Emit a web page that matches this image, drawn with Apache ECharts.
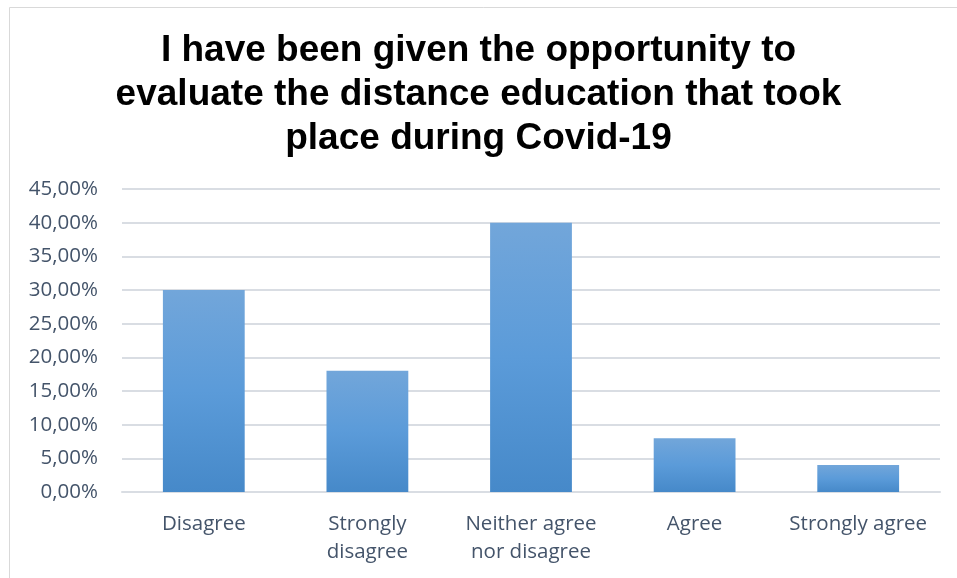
<!DOCTYPE html>
<html><head><meta charset="utf-8">
<script src="https://cdn.jsdelivr.net/npm/echarts@6/dist/echarts.min.js"></script>
<style>html,body{margin:0;padding:0;background:#fff;}#c{width:957px;height:578px;}</style>
</head><body><div id="c"></div>
<script>
const categories = ['Disagree', 'Strongly\ndisagree', 'Neither agree\nnor disagree', 'Agree', 'Strongly agree'];
const values = [30, 18, 40, 8, 4];
const titleText = 'I have been given the opportunity to\nevaluate the distance education that took\nplace during Covid-19';
const yTicks = { min: 0, max: 45, interval: 5 };

const chart = echarts.init(document.getElementById('c'));
chart.setOption({
  animation: false,
  backgroundColor: '#fff',
  graphic: [{
    type: 'rect', shape: { x: 9.5, y: 7.5, width: 960, height: 600 },
    style: { fill: 'none', stroke: '#d9d9d9', lineWidth: 1 }, silent: true, z: -1
  }],
  title: {
    text: titleText, left: 'center', top: 24,
    textStyle: { fontFamily: 'Liberation Sans, Arial', fontWeight: 'bold', fontSize: 37, color: '#000', lineHeight: 44 }
  },
  grid: { left: 122, right: 17, top: 189, bottom: 86 },
  xAxis: {
    type: 'category', data: categories,
    axisLine: { lineStyle: { color: '#d9dde3', width: 2 } },
    axisTick: { show: false },
    axisLabel: { fontFamily: 'Open Sans', fontSize: 20.5, color: '#44546a', margin: 18, lineHeight: 28, interval: 0 }
  },
  yAxis: {
    type: 'value', min: yTicks.min, max: yTicks.max, interval: yTicks.interval,
    axisLine: { show: false }, axisTick: { show: false },
    splitLine: { lineStyle: { color: '#d9dde3', width: 2 } },
    axisLabel: { fontFamily: 'Open Sans', fontSize: 20.5, color: '#44546a', margin: 24,
      formatter: v => v.toFixed(2).replace('.', ',') + '%' }
  },
  series: [{
    type: 'bar', data: values, barWidth: '50%',
    itemStyle: {
      color: new echarts.graphic.LinearGradient(0, 0, 0, 1, [
        { offset: 0, color: '#72a6da' },
        { offset: 0.5, color: '#5b9bd9' },
        { offset: 1, color: '#4689c9' }
      ])
    }
  }]
});
</script></body></html>
